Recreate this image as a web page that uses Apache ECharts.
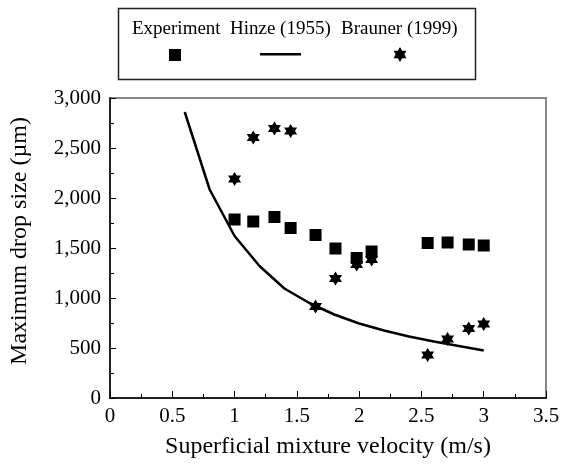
<!DOCTYPE html>
<html>
<head>
<meta charset="utf-8">
<script src="https://cdn.jsdelivr.net/npm/echarts@6/dist/echarts.min.js"></script>
<style>html,body{margin:0;padding:0;background:#fff}#c{width:563px;height:464px}</style>
</head>
<body>
<div id="c"></div>
<script>
var expX = [1.0, 1.15, 1.32, 1.45, 1.65, 1.81, 1.98, 2.1, 2.55, 2.71, 2.88, 3.0];
var expY = [1785, 1765, 1810, 1700, 1630, 1495, 1400, 1465, 1550, 1555, 1535, 1525];
var braX = [1.0, 1.15, 1.32, 1.45, 1.65, 1.81, 1.98, 2.1, 2.55, 2.71, 2.88, 3.0];
var braY = [2190, 2605, 2695, 2670, 915, 1195, 1335, 1385, 430, 590, 695, 740];
var hinX = [0.6, 0.8, 1.0, 1.2, 1.4, 1.6, 1.8, 2.0, 2.2, 2.4, 2.6, 2.8, 3.0];
var hinY = [2860, 2085, 1620, 1320, 1095, 950, 835, 745, 675, 615, 565, 520, 475];
var names = ['Experiment', 'Hinze (1955)', 'Brauner (1999)'];
var xTitle = 'Superficial mixture velocity (m/s)';
var yTitle = 'Maximum drop size (\u00b5m)';

function pairs(xs, ys) { return xs.map(function (x, i) { return [x, ys[i]]; }); }
var star = 'path://M0,-10L8.66,5L-8.66,5Z M0,10L-8.66,-5L8.66,-5Z';
var font = 'Liberation Serif';
var lf = '19px "Liberation Serif"';

var chart = echarts.init(document.getElementById('c'));
chart.setOption({
  animation: false,
  backgroundColor: '#fff',
  grid: { left: 110, right: 17, top: 98, bottom: 66, show: true, borderColor: '#888', borderWidth: 2 },
  xAxis: [{
    type: 'value', min: 0, max: 3.5, interval: 0.5,
    axisLine: { show: true, onZero: false, lineStyle: { color: '#000', width: 1.5 } },
    axisTick: { show: true, inside: true, length: 7, lineStyle: { color: '#000' } },
    minorTick: { show: true, splitNumber: 2, length: 4, lineStyle: { color: '#000' } },
    splitLine: { show: false },
    axisLabel: { color: '#000', fontFamily: font, fontSize: 21, margin: 8 },
    name: xTitle, nameLocation: 'middle', nameGap: 37,
    nameTextStyle: { color: '#000', fontFamily: font, fontSize: 24 }
  }, {
    type: 'value', position: 'top', min: 0, max: 3.5,
    axisLine: { show: true, lineStyle: { color: '#222', width: 1.5 } },
    axisTick: { show: false }, axisLabel: { show: false }, splitLine: { show: false }
  }],
  yAxis: {
    type: 'value', min: 0, max: 3000, interval: 500,
    axisLine: { show: true, onZero: false, lineStyle: { color: '#000', width: 1.5 } },
    axisTick: { show: true, inside: true, length: 6, lineStyle: { color: '#000' } },
    minorTick: { show: true, splitNumber: 2, length: 4, lineStyle: { color: '#000' } },
    splitLine: { show: false },
    axisLabel: { color: '#000', fontFamily: font, fontSize: 21, margin: 9,
      formatter: function (v) { return v.toLocaleString('en-US'); } },
    name: yTitle, nameLocation: 'middle', nameGap: 78, nameRotate: 90,
    nameTextStyle: { color: '#000', fontFamily: font, fontSize: 24, padding: [0, 0, 0, 14] }
  },
  legend: [
    { data: [{ name: names[0], icon: 'rect' }], left: 169, top: 49, itemWidth: 12, itemHeight: 12, formatter: function () { return ''; }, padding: 0, itemGap: 0 },
    { data: [{ name: names[1], icon: 'rect' }], left: 260, top: 53, itemWidth: 41, itemHeight: 2.5, formatter: function () { return ''; }, padding: 0, itemGap: 0 },
    { data: [{ name: names[2], icon: star }], left: 393, top: 47, itemWidth: 14, itemHeight: 15, formatter: function () { return ''; }, padding: 0, itemGap: 0 }
  ],
  graphic: [
    { type: 'rect', left: 116, top: 6, shape: { width: 357, height: 71 }, style: { fill: 'none', stroke: '#222', lineWidth: 1.5 }, silent: true },
    { type: 'text', left: 132, top: 20, style: { text: names[0], font: lf, fill: '#000' } },
    { type: 'text', left: 230, top: 20, style: { text: names[1], font: lf, fill: '#000' } },
    { type: 'text', left: 341, top: 20, style: { text: names[2], font: lf, fill: '#000' } }
  ],
  series: [
    { name: names[0], type: 'scatter', symbol: 'rect', symbolSize: 12, itemStyle: { color: '#000', opacity: 1 }, data: pairs(expX, expY), z: 3 },
    { name: names[1], type: 'line', showSymbol: false, symbol: 'none', lineStyle: { color: '#000', width: 2.5 }, itemStyle: { color: '#000' }, data: pairs(hinX, hinY), z: 2 },
    { name: names[2], type: 'scatter', symbol: star, symbolSize: [13, 14], itemStyle: { color: '#000', opacity: 1 }, data: pairs(braX, braY), z: 4 }
  ]
});
</script>
</body>
</html>
